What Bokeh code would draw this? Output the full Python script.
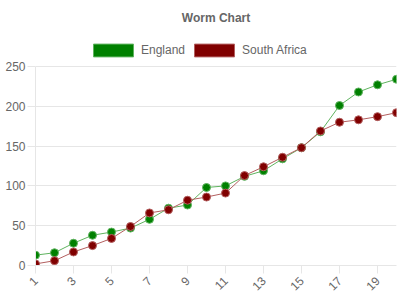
from bokeh.plotting import figure
from bokeh.models import Legend, LegendItem, FixedTicker, Range1d
from bokeh.embed import file_html
from bokeh.resources import INLINE

overs = list(range(1, 21))
england = [13, 16, 28, 38, 42, 47, 58, 72, 76, 98, 100, 112, 119, 134, 148, 168, 201, 218, 227, 234]
south_africa = [2, 6, 17, 25, 34, 49, 66, 70, 82, 86, 91, 113, 124, 136, 148, 169, 180, 183, 187, 192]
series_names = ["England", "South Africa"]
x_ticks = [1, 3, 5, 7, 9, 11, 13, 15, 17, 19]
y_ticks = [0, 50, 100, 150, 200, 250]
y_max = 250

FONT = "Liberation Sans"
GREY = "#666666"
GRID = "#e6e6e6"

TOP = 30
FRAME_H = 300 - TOP - 35
p = figure(width=400, height=300, output_backend="svg", toolbar_location=None,
           x_range=Range1d(1, 20), y_range=Range1d(0, y_max * FRAME_H / 199.0),
           min_border_left=35, min_border_right=4, min_border_bottom=35, min_border_top=TOP)
p.outline_line_color = None
p.background_fill_color = "white"
p.border_fill_color = "white"

p.title.text = "Worm Chart"
p.title.align = "center"
p.title.text_font = FONT
p.title.text_font_size = "12px"
p.title.text_font_style = "bold"
p.title.text_color = GREY
p.title.standoff = 11

p.xgrid.grid_line_color = None
p.ygrid.grid_line_color = GRID
p.ygrid.ticker = FixedTicker(ticks=y_ticks)

for ax in (p.xaxis[0], p.yaxis[0]):
    ax.axis_line_color = GRID
    ax.major_tick_line_color = GRID
    ax.major_tick_out = 8
    ax.major_tick_in = 0
    ax.minor_tick_line_color = None
    ax.major_label_text_font = FONT
    ax.major_label_text_font_size = "12px"
    ax.major_label_text_color = GREY

p.xaxis.ticker = FixedTicker(ticks=x_ticks)
p.xaxis.major_label_orientation = 0.785398
p.yaxis.ticker = FixedTicker(ticks=y_ticks)
p.yaxis.bounds = (0, y_max)
p.yaxis.major_label_standoff = 2

colors = ["#008000", "#800000"]
line_colors = ["#5fb35f", "#b35f5f"]
items = []
for name, ys, c, lc in zip(series_names, [england, south_africa], colors, line_colors):
    p.line(overs, ys, line_color=lc, line_width=1)
    p.scatter(overs, ys, size=8, fill_color=c, line_color=lc, line_width=1)
    box = p.quad(left=[-10], right=[-9], top=[-10], bottom=[-11], fill_color=c, line_color=lc, line_width=1)
    items.append(LegendItem(label=name, renderers=[box]))

legend = Legend(items=items, orientation="horizontal", location=(53, 207),
                glyph_width=50, glyph_height=16, label_standoff=3, spacing=4,
                label_text_font=FONT, label_text_font_size="12px", label_text_color=GREY,
                border_line_color=None, background_fill_alpha=0, padding=0, margin=0)
p.add_layout(legend, "center")

open("out.html", "w").write(file_html(p, INLINE))
